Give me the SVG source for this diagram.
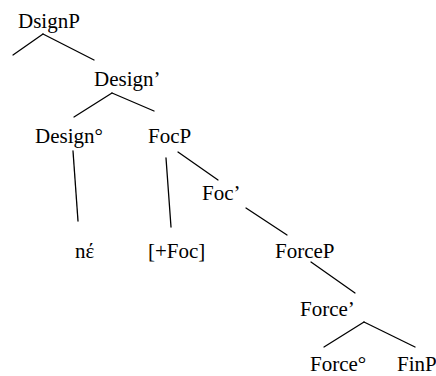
<svg xmlns="http://www.w3.org/2000/svg" width="436" height="376" viewBox="0 0 436 376">
  <style>
    text { font-family: 'Liberation Serif', 'DejaVu Serif', serif; font-size: 21px; fill: #000; }
    .edge { stroke: #000; stroke-width: 1.3; fill: none; stroke-linecap: round; }
  </style>
  <rect width="436" height="376" fill="#fff"/>
  <g id="connectors">
    <line class="edge" x1="43" y1="34" x2="13" y2="55"/>
    <line class="edge" x1="43" y1="34" x2="94" y2="60"/>
    <line class="edge" x1="112" y1="93" x2="74" y2="117"/>
    <line class="edge" x1="112" y1="93" x2="154" y2="111"/>
    <line class="edge" x1="73" y1="151" x2="78" y2="221"/>
    <line class="edge" x1="166" y1="158" x2="171" y2="227"/>
    <line class="edge" x1="178" y1="152" x2="218" y2="180"/>
    <line class="edge" x1="246" y1="208" x2="287" y2="235"/>
    <line class="edge" x1="311" y1="262" x2="355" y2="293"/>
    <line class="edge" x1="364" y1="322" x2="324" y2="347"/>
    <line class="edge" x1="364" y1="322" x2="415" y2="347"/>
  </g>
  <g id="node-dsignp"><text x="18" y="28">DsignP</text></g>
  <g id="node-design-bar"><text x="94" y="86">Design’</text></g>
  <g id="node-design-head"><text x="35" y="143">Design°</text></g>
  <g id="node-focp"><text x="148" y="143">FocP</text></g>
  <g id="node-ne"><text x="75" y="258">nέ</text></g>
  <g id="node-foc-feature"><text x="148" y="258">[+Foc]</text></g>
  <g id="node-foc-bar"><text x="202" y="200">Foc’</text></g>
  <g id="node-forcep"><text x="275" y="258">ForceP</text></g>
  <g id="node-force-bar"><text x="300" y="316">Force’</text></g>
  <g id="node-force-head"><text x="310" y="371">Force°</text></g>
  <g id="node-finp"><text x="397" y="371">FinP</text></g>
</svg>
